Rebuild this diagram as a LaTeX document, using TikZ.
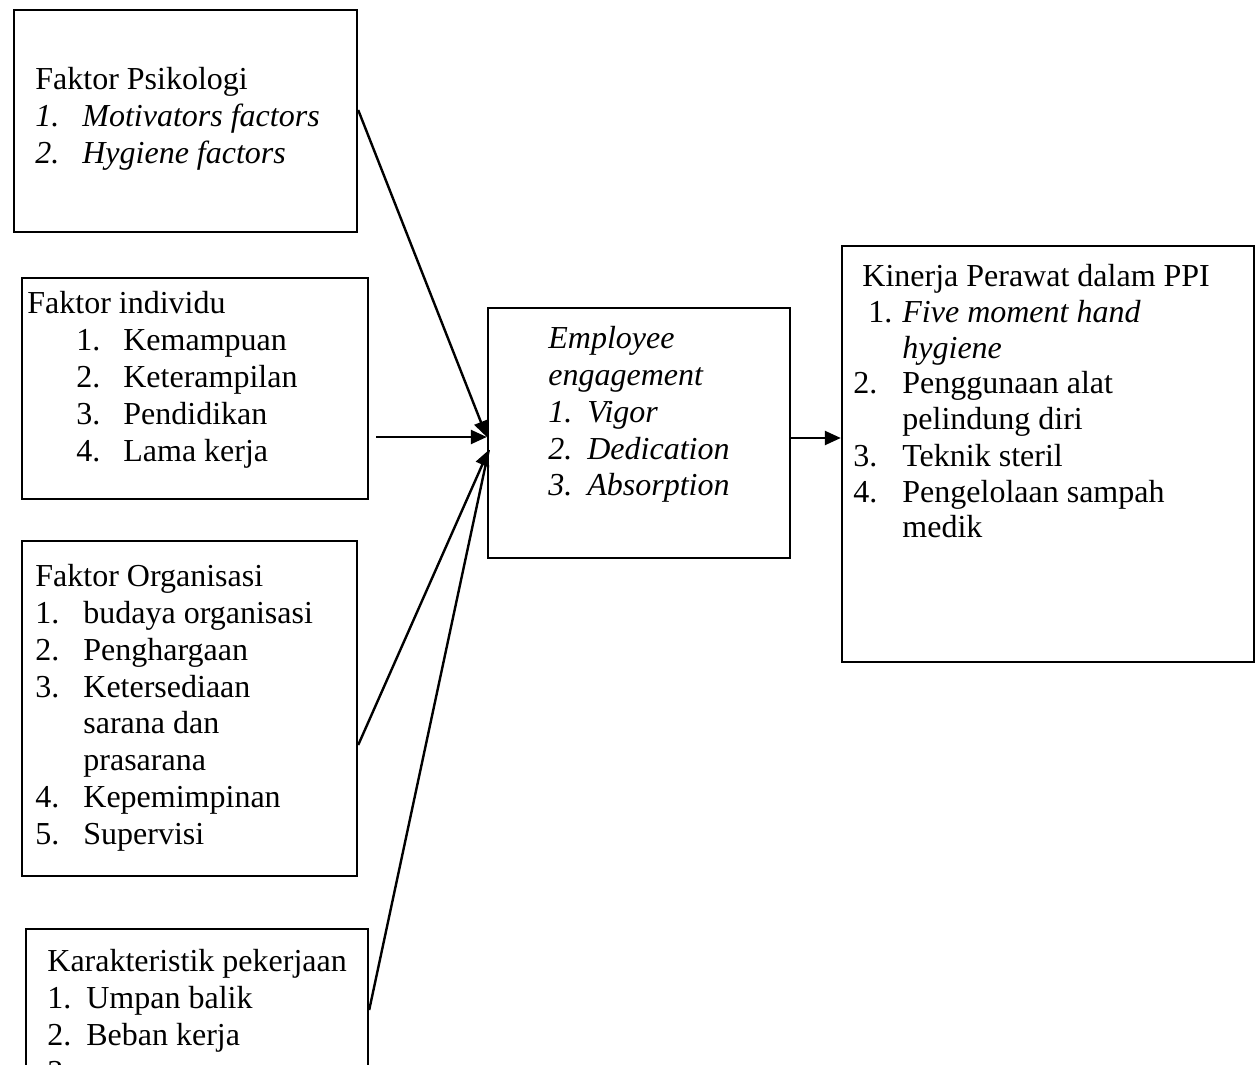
\documentclass[tikz,border=0pt]{standalone}
\usepackage{fontspec}
\setmainfont{Liberation Serif}
\usetikzlibrary{arrows.meta}
\tikzset{
  box/.style={draw, line width=1.2pt, inner sep=0pt},
  txt/.style={anchor=base west, inner sep=0pt, font=\fontsize{16}{18.5}\selectfont},
  link/.style={line width=1.2pt},
  arrowlink/.style={line width=1.2pt, -{Triangle[length=8pt,width=7pt]}},
}
\newcommand{\nb}[2]{\makebox[#1][l]{#2}}
\begin{document}
\begin{tikzpicture}[x=0.5pt,y=-0.5pt]
\useasboundingbox (0,0) rectangle (1260,1065);
\clip (0,0) rectangle (1260,1065);

% boxes
\node[box, minimum width=171.5pt, minimum height=111pt] (psi) at (185.5,121) {};
\node[box, minimum width=173pt, minimum height=110.5pt] (ind) at (195,388.5) {};
\node[box, minimum width=167.5pt, minimum height=167.5pt] (org) at (189.5,708.5) {};
\node[box, minimum width=171pt, minimum height=95.5pt] (kar) at (197,1024.5) {};
\node[box, minimum width=151pt, minimum height=125pt] (mid) at (639,433) {};
\node[box, minimum width=206pt, minimum height=208pt] (out) at (1048,454) {};

% texts
\node[txt] (psiT) at (35,90) {\begin{tabular}[t]{@{}l@{}}
Faktor Psikologi\\
\nb{23.5pt}{\itshape 1.}\textit{Motivators factors}\\
\nb{23.5pt}{\itshape 2.}\textit{Hygiene factors}
\end{tabular}};

\node[txt] (indT) at (27,314) {\begin{tabular}[t]{@{}l@{}}
Faktor individu\\
\hspace*{24.5pt}\nb{23.5pt}{1.}Kemampuan\\
\hspace*{24.5pt}\nb{23.5pt}{2.}Keterampilan\\
\hspace*{24.5pt}\nb{23.5pt}{3.}Pendidikan\\
\hspace*{24.5pt}\nb{23.5pt}{4.}Lama kerja
\end{tabular}};

\node[txt] (orgT) at (35,586) {\begin{tabular}[t]{@{}l@{}}
Faktor Organisasi\\
\nb{24pt}{1.}budaya organisasi\\
\nb{24pt}{2.}Penghargaan\\
\nb{24pt}{3.}Ketersediaan\\
\hspace*{24pt}sarana dan\\
\hspace*{24pt}prasarana\\
\nb{24pt}{4.}Kepemimpinan\\
\nb{24pt}{5.}Supervisi
\end{tabular}};

\node[txt] (karT) at (47,971) {\begin{tabular}[t]{@{}l@{}}
Karakteristik pekerjaan\\
\nb{19.5pt}{1.}Umpan balik\\
\nb{19.5pt}{2.}Beban kerja\\
\nb{19.5pt}{3.}
\end{tabular}};

\node[txt] (midT) at (548,348) {\begin{tabular}[t]{@{}l@{}}
\textit{Employee}\\
\textit{engagement}\\
\nb{19.5pt}{\itshape 1.}\textit{Vigor}\\
\nb{19.5pt}{\itshape 2.}\textit{Dedication}\\
\nb{19.5pt}{\itshape 3.}\textit{Absorption}
\end{tabular}};

\node[txt, font=\fontsize{16}{18}\selectfont] (outT) at (853,286) {\begin{tabular}[t]{@{}l@{}}
\hspace*{4.5pt}Kinerja Perawat dalam PPI\\
\hspace*{7.5pt}\nb{17pt}{1.}\textit{Five moment hand}\\
\hspace*{24.5pt}\textit{hygiene}\\
\nb{24.5pt}{2.}Penggunaan alat\\
\hspace*{24.5pt}pelindung diri\\
\nb{24.5pt}{3.}Teknik steril\\
\nb{24.5pt}{4.}Pengelolaan sampah\\
\hspace*{24.5pt}medik
\end{tabular}};

% connectors
\draw[arrowlink] ([yshift=5.5pt]psi.east) -- ([yshift=-2pt]mid.west);
\draw[arrowlink] ([xshift=3.5pt,yshift=-24.25pt]ind.east) -- ([yshift=-2pt]mid.west);
\draw[link] ([yshift=7.25pt]kar.east) -- ([xshift=1pt,yshift=-8.5pt]mid.west);
\draw[arrowlink] ([yshift=-18.25pt]org.east) -- ([xshift=1pt,yshift=-8.5pt]mid.west);
\draw[arrowlink] ([yshift=-2.5pt]mid.east) -- ([yshift=8pt]out.west);
\end{tikzpicture}
\end{document}
